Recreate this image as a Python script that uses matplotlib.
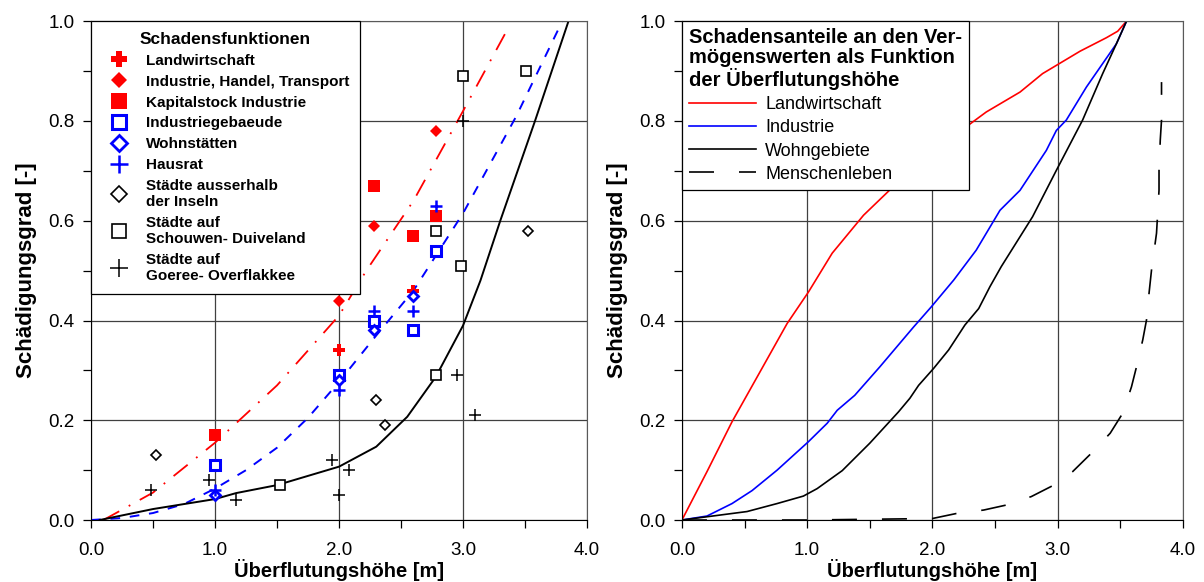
import numpy as np
import matplotlib
matplotlib.use("Agg")
import matplotlib.pyplot as plt
from matplotlib.ticker import MultipleLocator, FormatStrFormatter

plt.rcParams['font.family'] = ['Liberation Sans', 'DejaVu Sans']

# ---- left panel: observed damage points ----
landw_x = [2.0, 2.6]
landw_y = [0.34, 0.46]
iht_x = [2.0, 2.28, 2.78]
iht_y = [0.44, 0.59, 0.78]
kap_x = [1.0, 2.28, 2.6, 2.78]
kap_y = [0.17, 0.67, 0.57, 0.61]
igeb_x = [1.0, 2.0, 2.28, 2.6, 2.78]
igeb_y = [0.11, 0.29, 0.40, 0.38, 0.54]
wohn_x = [1.0, 2.0, 2.28, 2.6]
wohn_y = [0.05, 0.28, 0.38, 0.45]
haus_x = [1.0, 2.0, 2.28, 2.6, 2.78]
haus_y = [0.06, 0.26, 0.42, 0.42, 0.63]
ausser_x = [0.52, 2.3, 2.37, 3.52]
ausser_y = [0.13, 0.24, 0.19, 0.58]
schouwen_x = [1.52, 2.78, 2.78, 2.98, 3.0, 3.51]
schouwen_y = [0.07, 0.29, 0.58, 0.51, 0.89, 0.90]
goeree_x = [0.48, 0.95, 1.17, 1.94, 2.0, 2.08, 2.95, 3.0, 3.1]
goeree_y = [0.06, 0.08, 0.04, 0.12, 0.05, 0.10, 0.29, 0.80, 0.21]

# fitted curves, left panel
fit_red_x = [0.1, 0.5, 1.0, 1.5, 2.0, 2.22, 2.6, 3.0, 3.35]
fit_red_y = [0.0, 0.055, 0.155, 0.27, 0.41, 0.50, 0.64, 0.82, 0.98]
fit_blue_x = [0, 0.25, 0.5, 0.75, 1.0, 1.25, 1.5, 1.75, 2.0, 2.3, 2.6, 3.0, 3.43, 3.8]
fit_blue_y = [0, 0.004, 0.014, 0.032, 0.063, 0.1, 0.145, 0.205, 0.277, 0.37, 0.46, 0.615, 0.81, 1.0]
fit_black_x = [0.07, 0.5, 1.0, 1.17, 1.5, 2.0, 2.3, 2.55, 2.78, 3.0, 3.14, 3.3, 3.58, 3.85]
fit_black_y = [0, 0.022, 0.042, 0.054, 0.07, 0.107, 0.147, 0.207, 0.287, 0.39, 0.48, 0.6, 0.8, 1.0]

# ---- right panel: damage shares ----
land_x = [0, 0.2, 0.4, 0.84, 1.01, 1.2, 1.45, 1.81, 2.09, 2.43, 2.7, 2.88, 3.18, 3.39, 3.48, 3.55]
land_y = [0, 0.097, 0.197, 0.394, 0.457, 0.535, 0.611, 0.698, 0.755, 0.818, 0.858, 0.895, 0.94, 0.967, 0.98, 1.0]
ind_x = [0, 0.2, 0.4, 0.56, 0.76, 1.01, 1.16, 1.24, 1.38, 1.58, 1.85, 1.99, 2.17, 2.35, 2.54, 2.7, 2.91, 2.99,
         3.07, 3.23, 3.47, 3.55]
ind_y = [0, 0.008, 0.033, 0.059, 0.1, 0.157, 0.194, 0.22, 0.25, 0.307, 0.387, 0.427, 0.481, 0.541, 0.621, 0.661,
         0.741, 0.781, 0.802, 0.868, 0.955, 1.0]
wohn2_x = [0, 0.52, 0.76, 0.97, 1.08, 1.28, 1.5, 1.73, 1.82, 1.89, 2.01, 2.13, 2.26, 2.37, 2.46, 2.55, 2.8, 2.99,
           3.2, 3.36, 3.47, 3.55]
wohn2_y = [0, 0.017, 0.033, 0.048, 0.063, 0.099, 0.154, 0.217, 0.244, 0.27, 0.304, 0.341, 0.391, 0.424, 0.468,
           0.508, 0.608, 0.701, 0.802, 0.895, 0.955, 1.0]
mensch_x = [0, 1.0, 2.0, 2.19, 2.41, 2.59, 2.79, 2.97, 3.12, 3.27, 3.42, 3.52, 3.59, 3.63, 3.68, 3.71, 3.73, 3.75,
            3.79, 3.81, 3.81, 3.82, 3.83, 3.83]
mensch_y = [0, 0, 0.003, 0.013, 0.02, 0.03, 0.047, 0.07, 0.097, 0.134, 0.174, 0.214, 0.267, 0.307, 0.361, 0.401,
            0.454, 0.501, 0.575, 0.661, 0.701, 0.762, 0.802, 0.878]


def style_axes(ax):
    ax.set_xlim(0, 4)
    ax.set_ylim(0, 1)
    ax.xaxis.set_major_locator(MultipleLocator(1.0))
    ax.xaxis.set_minor_locator(MultipleLocator(0.5))
    ax.yaxis.set_major_locator(MultipleLocator(0.2))
    ax.yaxis.set_minor_locator(MultipleLocator(0.1))
    ax.xaxis.set_major_formatter(FormatStrFormatter('%.1f'))
    ax.yaxis.set_major_formatter(FormatStrFormatter('%.1f'))
    ax.tick_params(which='both', direction='out', length=6, width=0.9, labelsize=13.5)
    ax.tick_params(axis='x', which='major', pad=10)
    ax.tick_params(axis='y', which='major', pad=6)
    ax.grid(True, which='major', color='0.25', lw=0.9)
    for s in ['top', 'right']:
        ax.spines[s].set_color('0.35')
    for s in ['left', 'bottom']:
        ax.spines[s].set_color('black')
    ax.set_xlabel('Überflutungshöhe [m]', fontsize=14.5, fontweight='bold', labelpad=0)
    ax.set_ylabel('Schädigungsgrad [-]', fontsize=16, fontweight='bold', labelpad=8)
    ax.set_axisbelow(True)


fig = plt.figure(figsize=(12.04, 5.82), dpi=100)
ax1 = fig.add_axes([0.0756, 0.1065, 0.412, 0.857])
ax2 = fig.add_axes([0.5664, 0.1065, 0.416, 0.857])

# left panel
ax1.plot(fit_red_x, fit_red_y, color='red', lw=1.3, ls=(0, (10, 6, 1, 6)))
ax1.plot(fit_blue_x, fit_blue_y, color='blue', lw=1.4, ls=(0, (5, 5)))
ax1.plot(fit_black_x, fit_black_y, color='black', lw=1.4)

ax1.plot(landw_x, landw_y, 'P', color='red', ms=8, mew=0, ls='none', label='Landwirtschaft')
ax1.plot(iht_x, iht_y, 'D', color='red', ms=6, mew=0, ls='none', label='Industrie, Handel, Transport')
ax1.plot(kap_x, kap_y, 's', color='red', ms=8, mew=0, ls='none', label='Kapitalstock Industrie')
ax1.plot(igeb_x, igeb_y, 's', mfc='white', mec='blue', ms=7, mew=2.2, ls='none', label='Industriegebaeude')
ax1.plot(wohn_x, wohn_y, 'D', mfc='white', mec='blue', ms=5.5, mew=2.0, ls='none', label='Wohnstätten')
ax1.plot(haus_x, haus_y, '+', color='blue', ms=9, mew=1.8, ls='none', label='Hausrat')
ax1.plot(ausser_x, ausser_y, 'D', mfc='white', mec='black', ms=5.5, mew=1.2, ls='none',
         label='Städte ausserhalb\nder Inseln')
ax1.plot(schouwen_x, schouwen_y, 's', mfc='white', mec='black', ms=7.5, mew=1.2, ls='none',
         label='Städte auf\nSchouwen- Duiveland')
ax1.plot(goeree_x, goeree_y, '+', color='black', ms=9, mew=1.1, ls='none',
         label='Städte auf\nGoeree- Overflakkee')

style_axes(ax1)
leg1 = ax1.legend(loc='upper left', bbox_to_anchor=(0, 1), borderaxespad=0, fancybox=False,
                  edgecolor='black', framealpha=1, markerscale=1.4, handlelength=2.3,
                  handletextpad=0.6, labelspacing=0.45, borderpad=0.7, title='Schadensfunktionen',
                  prop={'size': 11, 'weight': 'bold'})
leg1.get_title().set_fontweight('bold')
leg1.get_title().set_fontsize(12.5)
leg1.get_frame().set_linewidth(0.9)

# right panel
ax2.plot(land_x, land_y, color='red', lw=1.2, label='Landwirtschaft')
ax2.plot(ind_x, ind_y, color='blue', lw=1.2, label='Industrie')
ax2.plot(wohn2_x, wohn2_y, color='black', lw=1.2, label='Wohngebiete')
ax2.plot(mensch_x, mensch_y, color='black', lw=1.2, ls=(0, (15, 15)), label='Menschenleben')

style_axes(ax2)
leg2 = ax2.legend(loc='upper left', bbox_to_anchor=(0, 1), borderaxespad=0, fancybox=False,
                  edgecolor='black', framealpha=1, handlelength=3.7, handletextpad=0.5,
                  labelspacing=0.34,
                  title='Schadensanteile an den Ver-\nmögenswerten als Funktion\nder Überflutungshöhe',
                  alignment='left', prop={'size': 13})
leg2.get_title().set_fontweight('bold')
leg2.get_title().set_fontsize(14.5)
leg2.get_title().set_linespacing(1.05)
leg2.get_frame().set_linewidth(0.9)

fig.savefig('out.png', dpi=100)
